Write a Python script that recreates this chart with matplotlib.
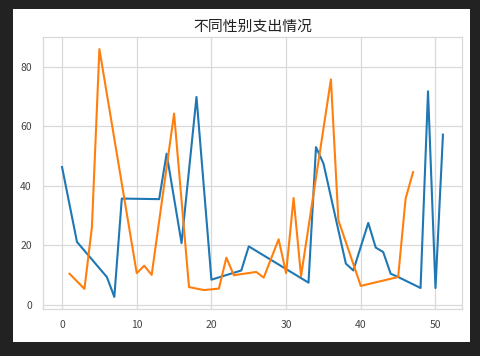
import matplotlib
matplotlib.use("Agg")
import matplotlib.pyplot as plt
from matplotlib.patches import Rectangle

plt.rcParams['font.family'] = ['Noto Sans CJK SC', 'DejaVu Sans']

# blue series (one gender): row index -> spending
blue_x = [0, 2, 6, 7, 8, 13, 14, 16, 18, 20, 24, 25, 33, 34, 35, 38, 39,
          41, 42, 43, 44, 45, 48, 49, 50, 51]
blue_y = [46.3, 21.1, 9.3, 2.6, 35.7, 35.5, 50.8, 20.7, 69.9, 8.4, 11.5, 19.6,
          7.4, 53.0, 47.5, 13.8, 11.5, 27.5, 19.2, 17.7, 10.4, 9.3, 5.6, 71.8,
          5.6, 57.2]

# orange series (other gender)
orange_x = [1, 3, 4, 5, 10, 11, 12, 15, 17, 19, 21, 22, 23, 26, 27, 29, 30,
            31, 32, 36, 37, 40, 45, 46, 47]
orange_y = [10.4, 5.3, 26.1, 86.0, 10.6, 13.1, 10.0, 64.3, 5.9, 4.9, 5.4, 15.8,
            9.9, 11.0, 9.1, 22.0, 10.6, 35.9, 9.6, 75.8, 28.4, 6.3, 9.3, 35.7,
            44.6]

fig = plt.figure(figsize=(4.8, 3.56), dpi=100, facecolor='#222222')
# white card on the dark frame
fig.patches.append(Rectangle((12.7 / 480, 1 - 341.7 / 356), (470 - 12.7) / 480,
                             (341.7 - 9) / 356, transform=fig.transFigure,
                             facecolor='white', edgecolor='none', zorder=-10))

ax = fig.add_axes([43 / 480, 46.7 / 356, 419 / 480, 272.6 / 356])
ax.set_zorder(5)
ax.set_facecolor('white')
ax.plot(blue_x, blue_y, color='#1f77b4', lw=1.5)
ax.plot(orange_x, orange_y, color='#ff7f0e', lw=1.5)

ax.set_xticks([0, 10, 20, 30, 40, 50])
ax.set_yticks([0, 20, 40, 60, 80])
ax.grid(True, color='#d9d9d9', lw=0.9)
ax.set_axisbelow(True)
for s in ax.spines.values():
    s.set_color('#d9d9d9')
    s.set_linewidth(0.9)
ax.tick_params(length=0, labelsize=7.5, labelcolor='#444444', pad=8)

ax.set_title('不同性别支出情况', fontsize=10.7, color='#222222', pad=4)

fig.savefig('out.png', dpi=100, facecolor=fig.get_facecolor())
